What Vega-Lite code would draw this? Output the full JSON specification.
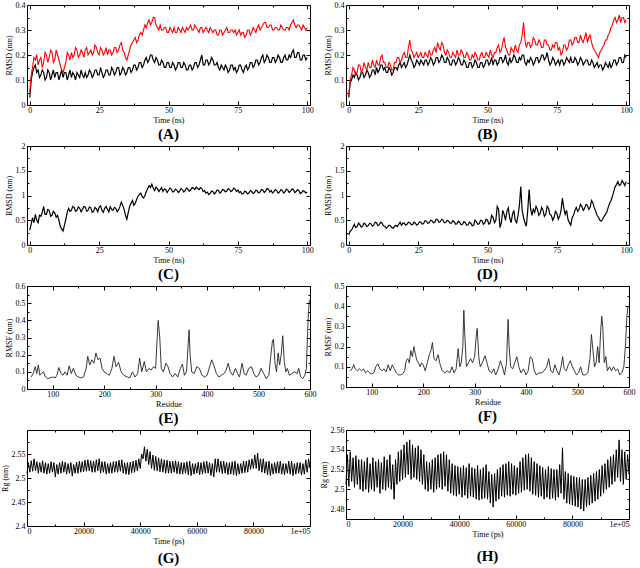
{
"$schema": "https://vega.github.io/schema/vega-lite/v6.json",
"background": "white",
"padding": {"left": 0, "top": 0, "right": 0, "bottom": 0},
"config": {
  "view": {"stroke": "black", "strokeWidth": 1},
  "font": "Liberation Serif",
  "axis": {"domain": false, "grid": false, "tickColor": "black", "tickWidth": 1, "labelFont": "Liberation Serif", "titleFont": "Liberation Serif", "labelFontSize": 8, "titleFontSize": 8, "titleFontWeight": "normal", "labelColor": "black", "titleColor": "black", "labelOverlap": false, "labelFlush": false, "labelBound": false},
  "axisX": {"labelPadding": 5, "titlePadding": 0},
  "axisY": {"labelPadding": 6, "titlePadding": 2},
  "title": {"orient": "bottom", "fontSize": 15, "fontWeight": "bold", "font": "Liberation Serif", "color": "black", "offset": 3, "anchor": "middle"}
},
"datasets": {
"A": [{"t":0,"r":0.05,"b":0.03},{"t":0.5,"r":0.12,"b":0.1},{"t":1,"r":0.15,"b":0.13},{"t":1.5,"r":0.19,"b":0.15},{"t":2,"r":0.18,"b":0.16},{"t":2.5,"r":0.2,"b":0.13},{"t":3,"r":0.16,"b":0.14},{"t":3.5,"r":0.18,"b":0.11},{"t":4,"r":0.19,"b":0.12},{"t":4.5,"r":0.15,"b":0.14},{"t":5,"r":0.17,"b":0.13},{"t":5.5,"r":0.21,"b":0.1},{"t":6,"r":0.2,"b":0.11},{"t":6.5,"r":0.17,"b":0.14},{"t":7,"r":0.19,"b":0.13},{"t":7.5,"r":0.22,"b":0.1},{"t":8,"r":0.21,"b":0.12},{"t":8.5,"r":0.17,"b":0.14},{"t":9,"r":0.18,"b":0.11},{"t":9.5,"r":0.22,"b":0.13},{"t":10,"r":0.2,"b":0.13},{"t":10.5,"r":0.18,"b":0.1},{"t":11,"r":0.16,"b":0.12},{"t":11.5,"r":0.14,"b":0.14},{"t":12,"r":0.13,"b":0.11},{"t":12.5,"r":0.15,"b":0.13},{"t":13,"r":0.17,"b":0.13},{"t":13.5,"r":0.21,"b":0.1},{"t":14,"r":0.2,"b":0.12},{"t":14.5,"r":0.18,"b":0.14},{"t":15,"r":0.21,"b":0.11},{"t":15.5,"r":0.19,"b":0.13},{"t":16,"r":0.2,"b":0.12},{"t":16.5,"r":0.23,"b":0.1},{"t":17,"r":0.22,"b":0.13},{"t":17.5,"r":0.19,"b":0.12},{"t":18,"r":0.2,"b":0.11},{"t":18.5,"r":0.22,"b":0.14},{"t":19,"r":0.21,"b":0.12},{"t":19.5,"r":0.19,"b":0.11},{"t":20,"r":0.22,"b":0.13},{"t":20.5,"r":0.23,"b":0.11},{"t":21,"r":0.2,"b":0.12},{"t":21.5,"r":0.21,"b":0.14},{"t":22,"r":0.22,"b":0.13},{"t":22.5,"r":0.2,"b":0.11},{"t":23,"r":0.21,"b":0.12},{"t":23.5,"r":0.24,"b":0.14},{"t":24,"r":0.23,"b":0.14},{"t":24.5,"r":0.21,"b":0.12},{"t":25,"r":0.2,"b":0.12},{"t":25.5,"r":0.23,"b":0.15},{"t":26,"r":0.22,"b":0.13},{"t":26.5,"r":0.2,"b":0.11},{"t":27,"r":0.21,"b":0.12},{"t":27.5,"r":0.23,"b":0.14},{"t":28,"r":0.2,"b":0.14},{"t":28.5,"r":0.22,"b":0.12},{"t":29,"r":0.22,"b":0.12},{"t":29.5,"r":0.2,"b":0.15},{"t":30,"r":0.21,"b":0.14},{"t":30.5,"r":0.23,"b":0.12},{"t":31,"r":0.23,"b":0.13},{"t":31.5,"r":0.21,"b":0.15},{"t":32,"r":0.22,"b":0.15},{"t":32.5,"r":0.24,"b":0.12},{"t":33,"r":0.25,"b":0.13},{"t":33.5,"r":0.22,"b":0.15},{"t":34,"r":0.21,"b":0.14},{"t":34.5,"r":0.19,"b":0.12},{"t":35,"r":0.18,"b":0.13},{"t":35.5,"r":0.2,"b":0.15},{"t":36,"r":0.22,"b":0.15},{"t":36.5,"r":0.24,"b":0.13},{"t":37,"r":0.25,"b":0.14},{"t":37.5,"r":0.26,"b":0.16},{"t":38,"r":0.27,"b":0.16},{"t":38.5,"r":0.25,"b":0.14},{"t":39,"r":0.26,"b":0.15},{"t":39.5,"r":0.28,"b":0.17},{"t":40,"r":0.29,"b":0.17},{"t":40.5,"r":0.28,"b":0.15},{"t":41,"r":0.3,"b":0.16},{"t":41.5,"r":0.32,"b":0.18},{"t":42,"r":0.31,"b":0.19},{"t":42.5,"r":0.33,"b":0.17},{"t":43,"r":0.34,"b":0.18},{"t":43.5,"r":0.32,"b":0.2},{"t":44,"r":0.33,"b":0.2},{"t":44.5,"r":0.35,"b":0.18},{"t":45,"r":0.35,"b":0.17},{"t":45.5,"r":0.32,"b":0.19},{"t":46,"r":0.31,"b":0.18},{"t":46.5,"r":0.3,"b":0.16},{"t":47,"r":0.32,"b":0.16},{"t":47.5,"r":0.3,"b":0.18},{"t":48,"r":0.3,"b":0.17},{"t":48.5,"r":0.31,"b":0.15},{"t":49,"r":0.31,"b":0.15},{"t":49.5,"r":0.29,"b":0.17},{"t":50,"r":0.29,"b":0.17},{"t":50.5,"r":0.31,"b":0.15},{"t":51,"r":0.3,"b":0.15},{"t":51.5,"r":0.29,"b":0.17},{"t":52,"r":0.31,"b":0.16},{"t":52.5,"r":0.29,"b":0.14},{"t":53,"r":0.29,"b":0.15},{"t":53.5,"r":0.31,"b":0.17},{"t":54,"r":0.3,"b":0.17},{"t":54.5,"r":0.29,"b":0.15},{"t":55,"r":0.31,"b":0.15},{"t":55.5,"r":0.3,"b":0.17},{"t":56,"r":0.29,"b":0.16},{"t":56.5,"r":0.31,"b":0.14},{"t":57,"r":0.3,"b":0.14},{"t":57.5,"r":0.31,"b":0.16},{"t":58,"r":0.32,"b":0.16},{"t":58.5,"r":0.3,"b":0.14},{"t":59,"r":0.3,"b":0.15},{"t":59.5,"r":0.32,"b":0.17},{"t":60,"r":0.31,"b":0.17},{"t":60.5,"r":0.3,"b":0.15},{"t":61,"r":0.29,"b":0.16},{"t":61.5,"r":0.31,"b":0.18},{"t":62,"r":0.31,"b":0.2},{"t":62.5,"r":0.29,"b":0.16},{"t":63,"r":0.3,"b":0.16},{"t":63.5,"r":0.31,"b":0.18},{"t":64,"r":0.3,"b":0.18},{"t":64.5,"r":0.29,"b":0.16},{"t":65,"r":0.31,"b":0.17},{"t":65.5,"r":0.3,"b":0.19},{"t":66,"r":0.29,"b":0.18},{"t":66.5,"r":0.3,"b":0.16},{"t":67,"r":0.3,"b":0.16},{"t":67.5,"r":0.28,"b":0.17},{"t":68,"r":0.28,"b":0.15},{"t":68.5,"r":0.3,"b":0.14},{"t":69,"r":0.3,"b":0.16},{"t":69.5,"r":0.28,"b":0.15},{"t":70,"r":0.29,"b":0.14},{"t":70.5,"r":0.3,"b":0.16},{"t":71,"r":0.31,"b":0.15},{"t":71.5,"r":0.29,"b":0.13},{"t":72,"r":0.29,"b":0.14},{"t":72.5,"r":0.3,"b":0.16},{"t":73,"r":0.3,"b":0.16},{"t":73.5,"r":0.29,"b":0.14},{"t":74,"r":0.3,"b":0.15},{"t":74.5,"r":0.28,"b":0.13},{"t":75,"r":0.29,"b":0.14},{"t":75.5,"r":0.3,"b":0.16},{"t":76,"r":0.28,"b":0.16},{"t":76.5,"r":0.29,"b":0.14},{"t":77,"r":0.29,"b":0.13},{"t":77.5,"r":0.27,"b":0.15},{"t":78,"r":0.28,"b":0.16},{"t":78.5,"r":0.3,"b":0.14},{"t":79,"r":0.3,"b":0.15},{"t":79.5,"r":0.28,"b":0.17},{"t":80,"r":0.29,"b":0.17},{"t":80.5,"r":0.31,"b":0.15},{"t":81,"r":0.3,"b":0.16},{"t":81.5,"r":0.29,"b":0.18},{"t":82,"r":0.31,"b":0.18},{"t":82.5,"r":0.32,"b":0.16},{"t":83,"r":0.3,"b":0.17},{"t":83.5,"r":0.31,"b":0.19},{"t":84,"r":0.32,"b":0.2},{"t":84.5,"r":0.33,"b":0.17},{"t":85,"r":0.33,"b":0.18},{"t":85.5,"r":0.31,"b":0.2},{"t":86,"r":0.31,"b":0.19},{"t":86.5,"r":0.32,"b":0.17},{"t":87,"r":0.32,"b":0.17},{"t":87.5,"r":0.3,"b":0.19},{"t":88,"r":0.3,"b":0.19},{"t":88.5,"r":0.31,"b":0.17},{"t":89,"r":0.31,"b":0.18},{"t":89.5,"r":0.3,"b":0.2},{"t":90,"r":0.3,"b":0.19},{"t":90.5,"r":0.32,"b":0.17},{"t":91,"r":0.31,"b":0.17},{"t":91.5,"r":0.3,"b":0.19},{"t":92,"r":0.3,"b":0.2},{"t":92.5,"r":0.31,"b":0.18},{"t":93,"r":0.31,"b":0.18},{"t":93.5,"r":0.3,"b":0.2},{"t":94,"r":0.32,"b":0.19},{"t":94.5,"r":0.33,"b":0.21},{"t":95,"r":0.34,"b":0.22},{"t":95.5,"r":0.32,"b":0.19},{"t":96,"r":0.31,"b":0.19},{"t":96.5,"r":0.32,"b":0.21},{"t":97,"r":0.32,"b":0.21},{"t":97.5,"r":0.31,"b":0.18},{"t":98,"r":0.3,"b":0.18},{"t":98.5,"r":0.32,"b":0.2},{"t":99,"r":0.31,"b":0.2},{"t":99.5,"r":0.3,"b":0.18},{"t":100,"r":0.31,"b":0.19}],
"B": [{"t":0,"r":0.04,"b":0.03},{"t":0.5,"r":0.1,"b":0.09},{"t":1,"r":0.12,"b":0.1},{"t":1.5,"r":0.15,"b":0.12},{"t":2,"r":0.14,"b":0.11},{"t":2.5,"r":0.12,"b":0.13},{"t":3,"r":0.13,"b":0.12},{"t":3.5,"r":0.16,"b":0.1},{"t":4,"r":0.16,"b":0.11},{"t":4.5,"r":0.13,"b":0.13},{"t":5,"r":0.14,"b":0.13},{"t":5.5,"r":0.17,"b":0.11},{"t":6,"r":0.15,"b":0.12},{"t":6.5,"r":0.14,"b":0.14},{"t":7,"r":0.17,"b":0.13},{"t":7.5,"r":0.15,"b":0.11},{"t":8,"r":0.15,"b":0.12},{"t":8.5,"r":0.18,"b":0.14},{"t":9,"r":0.16,"b":0.14},{"t":9.5,"r":0.15,"b":0.12},{"t":10,"r":0.18,"b":0.15},{"t":10.5,"r":0.16,"b":0.13},{"t":11,"r":0.16,"b":0.14},{"t":11.5,"r":0.19,"b":0.16},{"t":12,"r":0.2,"b":0.16},{"t":12.5,"r":0.17,"b":0.14},{"t":13,"r":0.17,"b":0.15},{"t":13.5,"r":0.15,"b":0.13},{"t":14,"r":0.15,"b":0.13},{"t":14.5,"r":0.17,"b":0.15},{"t":15,"r":0.16,"b":0.14},{"t":15.5,"r":0.14,"b":0.12},{"t":16,"r":0.14,"b":0.13},{"t":16.5,"r":0.17,"b":0.15},{"t":17,"r":0.17,"b":0.15},{"t":17.5,"r":0.19,"b":0.14},{"t":18,"r":0.19,"b":0.16},{"t":18.5,"r":0.17,"b":0.17},{"t":19,"r":0.18,"b":0.15},{"t":19.5,"r":0.2,"b":0.16},{"t":20,"r":0.21,"b":0.17},{"t":20.5,"r":0.19,"b":0.15},{"t":21,"r":0.19,"b":0.16},{"t":21.5,"r":0.23,"b":0.18},{"t":22,"r":0.26,"b":0.2},{"t":22.5,"r":0.22,"b":0.18},{"t":23,"r":0.21,"b":0.17},{"t":23.5,"r":0.19,"b":0.15},{"t":24,"r":0.2,"b":0.16},{"t":24.5,"r":0.21,"b":0.18},{"t":25,"r":0.19,"b":0.17},{"t":25.5,"r":0.2,"b":0.16},{"t":26,"r":0.21,"b":0.18},{"t":26.5,"r":0.19,"b":0.17},{"t":27,"r":0.19,"b":0.16},{"t":27.5,"r":0.21,"b":0.18},{"t":28,"r":0.2,"b":0.18},{"t":28.5,"r":0.19,"b":0.16},{"t":29,"r":0.22,"b":0.17},{"t":29.5,"r":0.2,"b":0.19},{"t":30,"r":0.2,"b":0.18},{"t":30.5,"r":0.22,"b":0.16},{"t":31,"r":0.23,"b":0.17},{"t":31.5,"r":0.21,"b":0.19},{"t":32,"r":0.25,"b":0.19},{"t":32.5,"r":0.23,"b":0.17},{"t":33,"r":0.22,"b":0.18},{"t":33.5,"r":0.25,"b":0.2},{"t":34,"r":0.24,"b":0.19},{"t":34.5,"r":0.21,"b":0.17},{"t":35,"r":0.2,"b":0.17},{"t":35.5,"r":0.22,"b":0.19},{"t":36,"r":0.21,"b":0.18},{"t":36.5,"r":0.19,"b":0.16},{"t":37,"r":0.19,"b":0.16},{"t":37.5,"r":0.21,"b":0.18},{"t":38,"r":0.2,"b":0.18},{"t":38.5,"r":0.19,"b":0.16},{"t":39,"r":0.22,"b":0.17},{"t":39.5,"r":0.2,"b":0.19},{"t":40,"r":0.2,"b":0.18},{"t":40.5,"r":0.22,"b":0.16},{"t":41,"r":0.21,"b":0.16},{"t":41.5,"r":0.19,"b":0.18},{"t":42,"r":0.19,"b":0.17},{"t":42.5,"r":0.21,"b":0.15},{"t":43,"r":0.2,"b":0.15},{"t":43.5,"r":0.18,"b":0.17},{"t":44,"r":0.18,"b":0.17},{"t":44.5,"r":0.2,"b":0.15},{"t":45,"r":0.19,"b":0.16},{"t":45.5,"r":0.21,"b":0.18},{"t":46,"r":0.2,"b":0.17},{"t":46.5,"r":0.18,"b":0.15},{"t":47,"r":0.18,"b":0.15},{"t":47.5,"r":0.2,"b":0.17},{"t":48,"r":0.21,"b":0.17},{"t":48.5,"r":0.19,"b":0.15},{"t":49,"r":0.19,"b":0.16},{"t":49.5,"r":0.21,"b":0.18},{"t":50,"r":0.2,"b":0.18},{"t":50.5,"r":0.19,"b":0.16},{"t":51,"r":0.22,"b":0.17},{"t":51.5,"r":0.2,"b":0.19},{"t":52,"r":0.19,"b":0.16},{"t":52.5,"r":0.21,"b":0.18},{"t":53,"r":0.21,"b":0.18},{"t":53.5,"r":0.23,"b":0.16},{"t":54,"r":0.24,"b":0.17},{"t":54.5,"r":0.21,"b":0.19},{"t":55,"r":0.22,"b":0.19},{"t":55.5,"r":0.25,"b":0.17},{"t":56,"r":0.27,"b":0.18},{"t":56.5,"r":0.23,"b":0.2},{"t":57,"r":0.22,"b":0.17},{"t":57.5,"r":0.2,"b":0.16},{"t":58,"r":0.2,"b":0.19},{"t":58.5,"r":0.23,"b":0.17},{"t":59,"r":0.22,"b":0.18},{"t":59.5,"r":0.21,"b":0.2},{"t":60,"r":0.24,"b":0.19},{"t":60.5,"r":0.22,"b":0.17},{"t":61,"r":0.21,"b":0.17},{"t":61.5,"r":0.24,"b":0.19},{"t":62,"r":0.25,"b":0.18},{"t":62.5,"r":0.28,"b":0.2},{"t":63,"r":0.33,"b":0.2},{"t":63.5,"r":0.26,"b":0.17},{"t":64,"r":0.23,"b":0.16},{"t":64.5,"r":0.25,"b":0.18},{"t":65,"r":0.25,"b":0.17},{"t":65.5,"r":0.23,"b":0.19},{"t":66,"r":0.24,"b":0.18},{"t":66.5,"r":0.27,"b":0.16},{"t":67,"r":0.26,"b":0.17},{"t":67.5,"r":0.24,"b":0.19},{"t":68,"r":0.24,"b":0.19},{"t":68.5,"r":0.26,"b":0.17},{"t":69,"r":0.25,"b":0.18},{"t":69.5,"r":0.23,"b":0.2},{"t":70,"r":0.23,"b":0.2},{"t":70.5,"r":0.26,"b":0.18},{"t":71,"r":0.26,"b":0.19},{"t":71.5,"r":0.24,"b":0.21},{"t":72,"r":0.24,"b":0.18},{"t":72.5,"r":0.22,"b":0.16},{"t":73,"r":0.22,"b":0.17},{"t":73.5,"r":0.24,"b":0.19},{"t":74,"r":0.23,"b":0.18},{"t":74.5,"r":0.25,"b":0.16},{"t":75,"r":0.25,"b":0.17},{"t":75.5,"r":0.22,"b":0.18},{"t":76,"r":0.23,"b":0.16},{"t":76.5,"r":0.2,"b":0.18},{"t":77,"r":0.21,"b":0.18},{"t":77.5,"r":0.24,"b":0.16},{"t":78,"r":0.24,"b":0.17},{"t":78.5,"r":0.22,"b":0.19},{"t":79,"r":0.23,"b":0.18},{"t":79.5,"r":0.26,"b":0.17},{"t":80,"r":0.26,"b":0.19},{"t":80.5,"r":0.24,"b":0.17},{"t":81,"r":0.25,"b":0.17},{"t":81.5,"r":0.27,"b":0.19},{"t":82,"r":0.27,"b":0.18},{"t":82.5,"r":0.25,"b":0.16},{"t":83,"r":0.25,"b":0.17},{"t":83.5,"r":0.28,"b":0.19},{"t":84,"r":0.26,"b":0.18},{"t":84.5,"r":0.25,"b":0.16},{"t":85,"r":0.27,"b":0.17},{"t":85.5,"r":0.29,"b":0.18},{"t":86,"r":0.25,"b":0.18},{"t":86.5,"r":0.27,"b":0.16},{"t":87,"r":0.28,"b":0.16},{"t":87.5,"r":0.25,"b":0.18},{"t":88,"r":0.23,"b":0.17},{"t":88.5,"r":0.22,"b":0.15},{"t":89,"r":0.21,"b":0.16},{"t":89.5,"r":0.2,"b":0.17},{"t":90,"r":0.19,"b":0.15},{"t":90.5,"r":0.21,"b":0.16},{"t":91,"r":0.22,"b":0.16},{"t":91.5,"r":0.23,"b":0.14},{"t":92,"r":0.24,"b":0.15},{"t":92.5,"r":0.26,"b":0.17},{"t":93,"r":0.26,"b":0.16},{"t":93.5,"r":0.28,"b":0.15},{"t":94,"r":0.29,"b":0.17},{"t":94.5,"r":0.31,"b":0.15},{"t":95,"r":0.32,"b":0.16},{"t":95.5,"r":0.34,"b":0.18},{"t":96,"r":0.35,"b":0.18},{"t":96.5,"r":0.33,"b":0.16},{"t":97,"r":0.34,"b":0.17},{"t":97.5,"r":0.36,"b":0.19},{"t":98,"r":0.33,"b":0.19},{"t":98.5,"r":0.35,"b":0.17},{"t":99,"r":0.35,"b":0.17},{"t":99.5,"r":0.33,"b":0.2},{"t":100,"r":0.34,"b":0.19}],
"C": [{"t":0,"v":0.3},{"t":0.5,"v":0.42},{"t":1,"v":0.55},{"t":1.5,"v":0.45},{"t":2,"v":0.62},{"t":2.5,"v":0.5},{"t":3,"v":0.45},{"t":3.5,"v":0.6},{"t":4,"v":0.58},{"t":4.5,"v":0.66},{"t":5,"v":0.78},{"t":5.5,"v":0.62},{"t":6,"v":0.62},{"t":6.5,"v":0.72},{"t":7,"v":0.7},{"t":7.5,"v":0.58},{"t":8,"v":0.6},{"t":8.5,"v":0.68},{"t":9,"v":0.65},{"t":9.5,"v":0.56},{"t":10,"v":0.6},{"t":10.5,"v":0.5},{"t":11,"v":0.38},{"t":11.5,"v":0.32},{"t":12,"v":0.28},{"t":12.5,"v":0.4},{"t":13,"v":0.52},{"t":13.5,"v":0.66},{"t":14,"v":0.74},{"t":14.5,"v":0.68},{"t":15,"v":0.7},{"t":15.5,"v":0.78},{"t":16,"v":0.76},{"t":16.5,"v":0.68},{"t":17,"v":0.7},{"t":17.5,"v":0.77},{"t":18,"v":0.74},{"t":18.5,"v":0.67},{"t":19,"v":0.72},{"t":19.5,"v":0.78},{"t":20,"v":0.77},{"t":20.5,"v":0.68},{"t":21,"v":0.7},{"t":21.5,"v":0.77},{"t":22,"v":0.75},{"t":22.5,"v":0.66},{"t":23,"v":0.68},{"t":23.5,"v":0.76},{"t":24,"v":0.73},{"t":24.5,"v":0.67},{"t":25,"v":0.76},{"t":25.5,"v":0.79},{"t":26,"v":0.7},{"t":26.5,"v":0.66},{"t":27,"v":0.74},{"t":27.5,"v":0.78},{"t":28,"v":0.72},{"t":28.5,"v":0.67},{"t":29,"v":0.77},{"t":29.5,"v":0.72},{"t":30,"v":0.7},{"t":30.5,"v":0.76},{"t":31,"v":0.74},{"t":31.5,"v":0.67},{"t":32,"v":0.71},{"t":32.5,"v":0.78},{"t":33,"v":0.87},{"t":33.5,"v":0.8},{"t":34,"v":0.72},{"t":34.5,"v":0.6},{"t":35,"v":0.52},{"t":35.5,"v":0.66},{"t":36,"v":0.78},{"t":36.5,"v":0.84},{"t":37,"v":0.9},{"t":37.5,"v":0.8},{"t":38,"v":0.84},{"t":38.5,"v":0.92},{"t":39,"v":0.98},{"t":39.5,"v":1.02},{"t":40,"v":1.05},{"t":40.5,"v":0.98},{"t":41,"v":0.95},{"t":41.5,"v":1.0},{"t":42,"v":1.08},{"t":42.5,"v":1.14},{"t":43,"v":1.2},{"t":43.5,"v":1.16},{"t":44,"v":1.23},{"t":44.5,"v":1.15},{"t":45,"v":1.1},{"t":45.5,"v":1.17},{"t":46,"v":1.14},{"t":46.5,"v":1.08},{"t":47,"v":1.12},{"t":47.5,"v":1.16},{"t":48,"v":1.08},{"t":48.5,"v":1.13},{"t":49,"v":1.12},{"t":49.5,"v":1.06},{"t":50,"v":1.1},{"t":50.5,"v":1.15},{"t":51,"v":1.13},{"t":51.5,"v":1.07},{"t":52,"v":1.08},{"t":52.5,"v":1.13},{"t":53,"v":1.11},{"t":53.5,"v":1.06},{"t":54,"v":1.09},{"t":54.5,"v":1.14},{"t":55,"v":1.12},{"t":55.5,"v":1.07},{"t":56,"v":1.1},{"t":56.5,"v":1.15},{"t":57,"v":1.13},{"t":57.5,"v":1.09},{"t":58,"v":1.11},{"t":58.5,"v":1.16},{"t":59,"v":1.15},{"t":59.5,"v":1.12},{"t":60,"v":1.17},{"t":60.5,"v":1.14},{"t":61,"v":1.12},{"t":61.5,"v":1.16},{"t":62,"v":1.14},{"t":62.5,"v":1.08},{"t":63,"v":1.1},{"t":63.5,"v":1.05},{"t":64,"v":1.07},{"t":64.5,"v":1.02},{"t":65,"v":1.04},{"t":65.5,"v":1.09},{"t":66,"v":1.08},{"t":66.5,"v":1.03},{"t":67,"v":1.06},{"t":67.5,"v":1.11},{"t":68,"v":1.1},{"t":68.5,"v":1.05},{"t":69,"v":1.07},{"t":69.5,"v":1.12},{"t":70,"v":1.11},{"t":70.5,"v":1.07},{"t":71,"v":1.09},{"t":71.5,"v":1.14},{"t":72,"v":1.12},{"t":72.5,"v":1.08},{"t":73,"v":1.1},{"t":73.5,"v":1.15},{"t":74,"v":1.13},{"t":74.5,"v":1.08},{"t":75,"v":1.11},{"t":75.5,"v":1.06},{"t":76,"v":1.08},{"t":76.5,"v":1.03},{"t":77,"v":1.04},{"t":77.5,"v":1.09},{"t":78,"v":1.07},{"t":78.5,"v":1.03},{"t":79,"v":1.05},{"t":79.5,"v":1.1},{"t":80,"v":1.08},{"t":80.5,"v":1.04},{"t":81,"v":1.06},{"t":81.5,"v":1.11},{"t":82,"v":1.09},{"t":82.5,"v":1.05},{"t":83,"v":1.07},{"t":83.5,"v":1.12},{"t":84,"v":1.11},{"t":84.5,"v":1.06},{"t":85,"v":1.09},{"t":85.5,"v":1.14},{"t":86,"v":1.13},{"t":86.5,"v":1.07},{"t":87,"v":1.1},{"t":87.5,"v":1.05},{"t":88,"v":1.08},{"t":88.5,"v":1.12},{"t":89,"v":1.1},{"t":89.5,"v":1.05},{"t":90,"v":1.07},{"t":90.5,"v":1.12},{"t":91,"v":1.1},{"t":91.5,"v":1.05},{"t":92,"v":1.08},{"t":92.5,"v":1.13},{"t":93,"v":1.11},{"t":93.5,"v":1.06},{"t":94,"v":1.09},{"t":94.5,"v":1.13},{"t":95,"v":1.12},{"t":95.5,"v":1.06},{"t":96,"v":1.08},{"t":96.5,"v":1.12},{"t":97,"v":1.1},{"t":97.5,"v":1.04},{"t":98,"v":1.06},{"t":98.5,"v":1.1},{"t":99,"v":1.08},{"t":99.5,"v":1.05},{"t":100,"v":1.07}],
"D": [{"t":0,"v":0.2},{"t":0.5,"v":0.28},{"t":1,"v":0.3},{"t":1.5,"v":0.36},{"t":2,"v":0.42},{"t":2.5,"v":0.35},{"t":3,"v":0.37},{"t":3.5,"v":0.44},{"t":4,"v":0.41},{"t":4.5,"v":0.36},{"t":5,"v":0.38},{"t":5.5,"v":0.44},{"t":6,"v":0.42},{"t":6.5,"v":0.37},{"t":7,"v":0.39},{"t":7.5,"v":0.44},{"t":8,"v":0.43},{"t":8.5,"v":0.38},{"t":9,"v":0.4},{"t":9.5,"v":0.46},{"t":10,"v":0.45},{"t":10.5,"v":0.39},{"t":11,"v":0.41},{"t":11.5,"v":0.46},{"t":12,"v":0.44},{"t":12.5,"v":0.39},{"t":13,"v":0.38},{"t":13.5,"v":0.34},{"t":14,"v":0.36},{"t":14.5,"v":0.4},{"t":15,"v":0.39},{"t":15.5,"v":0.35},{"t":16,"v":0.34},{"t":16.5,"v":0.38},{"t":17,"v":0.4},{"t":17.5,"v":0.37},{"t":18,"v":0.42},{"t":18.5,"v":0.46},{"t":19,"v":0.4},{"t":19.5,"v":0.44},{"t":20,"v":0.44},{"t":20.5,"v":0.4},{"t":21,"v":0.42},{"t":21.5,"v":0.46},{"t":22,"v":0.45},{"t":22.5,"v":0.41},{"t":23,"v":0.41},{"t":23.5,"v":0.46},{"t":24,"v":0.44},{"t":24.5,"v":0.4},{"t":25,"v":0.42},{"t":25.5,"v":0.47},{"t":26,"v":0.46},{"t":26.5,"v":0.42},{"t":27,"v":0.44},{"t":27.5,"v":0.49},{"t":28,"v":0.48},{"t":28.5,"v":0.44},{"t":29,"v":0.45},{"t":29.5,"v":0.5},{"t":30,"v":0.49},{"t":30.5,"v":0.45},{"t":31,"v":0.46},{"t":31.5,"v":0.52},{"t":32,"v":0.51},{"t":32.5,"v":0.46},{"t":33,"v":0.47},{"t":33.5,"v":0.52},{"t":34,"v":0.5},{"t":34.5,"v":0.45},{"t":35,"v":0.46},{"t":35.5,"v":0.5},{"t":36,"v":0.48},{"t":36.5,"v":0.44},{"t":37,"v":0.44},{"t":37.5,"v":0.49},{"t":38,"v":0.47},{"t":38.5,"v":0.42},{"t":39,"v":0.43},{"t":39.5,"v":0.48},{"t":40,"v":0.46},{"t":40.5,"v":0.41},{"t":41,"v":0.42},{"t":41.5,"v":0.47},{"t":42,"v":0.45},{"t":42.5,"v":0.4},{"t":43,"v":0.41},{"t":43.5,"v":0.46},{"t":44,"v":0.44},{"t":44.5,"v":0.39},{"t":45,"v":0.4},{"t":45.5,"v":0.5},{"t":46,"v":0.47},{"t":46.5,"v":0.42},{"t":47,"v":0.43},{"t":47.5,"v":0.5},{"t":48,"v":0.49},{"t":48.5,"v":0.42},{"t":49,"v":0.44},{"t":49.5,"v":0.52},{"t":50,"v":0.5},{"t":50.5,"v":0.42},{"t":51,"v":0.45},{"t":51.5,"v":0.6},{"t":52,"v":0.56},{"t":52.5,"v":0.45},{"t":53,"v":0.5},{"t":53.5,"v":0.78},{"t":54,"v":0.72},{"t":54.5,"v":0.35},{"t":55,"v":0.45},{"t":55.5,"v":0.7},{"t":56,"v":0.62},{"t":56.5,"v":0.5},{"t":57,"v":0.68},{"t":57.5,"v":0.75},{"t":58,"v":0.55},{"t":58.5,"v":0.45},{"t":59,"v":0.62},{"t":59.5,"v":0.7},{"t":60,"v":0.5},{"t":60.5,"v":0.45},{"t":61,"v":0.6},{"t":61.5,"v":0.8},{"t":62,"v":1.18},{"t":62.5,"v":0.7},{"t":63,"v":0.55},{"t":63.5,"v":0.45},{"t":64,"v":0.38},{"t":64.5,"v":0.7},{"t":65,"v":1.12},{"t":65.5,"v":0.75},{"t":66,"v":0.6},{"t":66.5,"v":0.72},{"t":67,"v":0.66},{"t":67.5,"v":0.78},{"t":68,"v":0.72},{"t":68.5,"v":0.6},{"t":69,"v":0.64},{"t":69.5,"v":0.76},{"t":70,"v":0.7},{"t":70.5,"v":0.58},{"t":71,"v":0.62},{"t":71.5,"v":0.78},{"t":72,"v":0.74},{"t":72.5,"v":0.62},{"t":73,"v":0.6},{"t":73.5,"v":0.5},{"t":74,"v":0.56},{"t":74.5,"v":0.68},{"t":75,"v":0.64},{"t":75.5,"v":0.52},{"t":76,"v":0.58},{"t":76.5,"v":0.7},{"t":77,"v":0.95},{"t":77.5,"v":0.75},{"t":78,"v":0.62},{"t":78.5,"v":0.7},{"t":79,"v":0.52},{"t":79.5,"v":0.45},{"t":80,"v":0.4},{"t":80.5,"v":0.55},{"t":81,"v":0.6},{"t":81.5,"v":0.7},{"t":82,"v":0.76},{"t":82.5,"v":0.68},{"t":83,"v":0.72},{"t":83.5,"v":0.82},{"t":84,"v":0.78},{"t":84.5,"v":0.7},{"t":85,"v":0.74},{"t":85.5,"v":0.82},{"t":86,"v":0.8},{"t":86.5,"v":0.72},{"t":87,"v":0.76},{"t":87.5,"v":0.9},{"t":88,"v":0.85},{"t":88.5,"v":0.75},{"t":89,"v":0.68},{"t":89.5,"v":0.6},{"t":90,"v":0.56},{"t":90.5,"v":0.5},{"t":91,"v":0.48},{"t":91.5,"v":0.52},{"t":92,"v":0.58},{"t":92.5,"v":0.62},{"t":93,"v":0.66},{"t":93.5,"v":0.76},{"t":94,"v":0.84},{"t":94.5,"v":0.9},{"t":95,"v":0.98},{"t":95.5,"v":1.08},{"t":96,"v":1.18},{"t":96.5,"v":1.22},{"t":97,"v":1.28},{"t":97.5,"v":1.2},{"t":98,"v":1.22},{"t":98.5,"v":1.3},{"t":99,"v":1.26},{"t":99.5,"v":1.2},{"t":100,"v":1.28}],
"E": [{"t":58,"v":0.07},{"t":62,"v":0.09},{"t":66,"v":0.13},{"t":69,"v":0.09},{"t":72,"v":0.14},{"t":75,"v":0.08},{"t":78,"v":0.09},{"t":82,"v":0.1},{"t":86,"v":0.07},{"t":90,"v":0.06},{"t":95,"v":0.065},{"t":100,"v":0.07},{"t":105,"v":0.065},{"t":108,"v":0.08},{"t":112,"v":0.125},{"t":116,"v":0.09},{"t":120,"v":0.08},{"t":124,"v":0.1},{"t":128,"v":0.08},{"t":132,"v":0.135},{"t":136,"v":0.09},{"t":140,"v":0.12},{"t":145,"v":0.08},{"t":150,"v":0.07},{"t":155,"v":0.065},{"t":160,"v":0.07},{"t":165,"v":0.12},{"t":168,"v":0.19},{"t":172,"v":0.14},{"t":176,"v":0.17},{"t":180,"v":0.15},{"t":184,"v":0.21},{"t":188,"v":0.17},{"t":192,"v":0.18},{"t":196,"v":0.12},{"t":200,"v":0.1},{"t":205,"v":0.09},{"t":210,"v":0.08},{"t":215,"v":0.12},{"t":219,"v":0.19},{"t":223,"v":0.13},{"t":228,"v":0.155},{"t":233,"v":0.1},{"t":238,"v":0.08},{"t":245,"v":0.07},{"t":250,"v":0.065},{"t":255,"v":0.1},{"t":260,"v":0.07},{"t":265,"v":0.09},{"t":269,"v":0.18},{"t":273,"v":0.1},{"t":278,"v":0.16},{"t":282,"v":0.1},{"t":287,"v":0.12},{"t":291,"v":0.11},{"t":296,"v":0.13},{"t":300,"v":0.12},{"t":303,"v":0.3},{"t":305,"v":0.4},{"t":308,"v":0.3},{"t":311,"v":0.12},{"t":315,"v":0.1},{"t":320,"v":0.15},{"t":324,"v":0.13},{"t":328,"v":0.09},{"t":333,"v":0.07},{"t":338,"v":0.09},{"t":343,"v":0.07},{"t":348,"v":0.12},{"t":352,"v":0.145},{"t":356,"v":0.08},{"t":360,"v":0.1},{"t":363,"v":0.25},{"t":365,"v":0.345},{"t":367,"v":0.2},{"t":370,"v":0.1},{"t":375,"v":0.09},{"t":380,"v":0.13},{"t":385,"v":0.12},{"t":390,"v":0.08},{"t":395,"v":0.07},{"t":400,"v":0.08},{"t":405,"v":0.13},{"t":409,"v":0.17},{"t":413,"v":0.14},{"t":418,"v":0.09},{"t":423,"v":0.07},{"t":428,"v":0.08},{"t":433,"v":0.09},{"t":437,"v":0.11},{"t":441,"v":0.15},{"t":445,"v":0.1},{"t":450,"v":0.08},{"t":455,"v":0.12},{"t":459,"v":0.09},{"t":463,"v":0.07},{"t":468,"v":0.15},{"t":472,"v":0.09},{"t":476,"v":0.08},{"t":481,"v":0.12},{"t":486,"v":0.13},{"t":491,"v":0.09},{"t":495,"v":0.07},{"t":500,"v":0.08},{"t":505,"v":0.12},{"t":510,"v":0.09},{"t":515,"v":0.06},{"t":520,"v":0.08},{"t":524,"v":0.2},{"t":527,"v":0.28},{"t":529,"v":0.29},{"t":532,"v":0.15},{"t":535,"v":0.1},{"t":538,"v":0.21},{"t":541,"v":0.14},{"t":544,"v":0.2},{"t":547,"v":0.31},{"t":550,"v":0.16},{"t":553,"v":0.1},{"t":556,"v":0.12},{"t":560,"v":0.08},{"t":565,"v":0.09},{"t":570,"v":0.1},{"t":575,"v":0.09},{"t":578,"v":0.12},{"t":582,"v":0.07},{"t":586,"v":0.06},{"t":590,"v":0.08},{"t":593,"v":0.12},{"t":595,"v":0.3},{"t":597,"v":0.45},{"t":599,"v":0.52}],
"F": [{"t":58,"v":0.08},{"t":62,"v":0.09},{"t":65,"v":0.11},{"t":68,"v":0.09},{"t":72,"v":0.08},{"t":76,"v":0.09},{"t":80,"v":0.08},{"t":84,"v":0.09},{"t":88,"v":0.07},{"t":92,"v":0.08},{"t":96,"v":0.07},{"t":100,"v":0.065},{"t":104,"v":0.07},{"t":108,"v":0.1},{"t":112,"v":0.115},{"t":116,"v":0.09},{"t":120,"v":0.08},{"t":124,"v":0.09},{"t":128,"v":0.075},{"t":132,"v":0.11},{"t":136,"v":0.08},{"t":140,"v":0.11},{"t":144,"v":0.09},{"t":148,"v":0.07},{"t":152,"v":0.06},{"t":156,"v":0.06},{"t":160,"v":0.065},{"t":164,"v":0.08},{"t":167,"v":0.13},{"t":170,"v":0.14},{"t":173,"v":0.12},{"t":176,"v":0.18},{"t":179,"v":0.15},{"t":182,"v":0.2},{"t":185,"v":0.16},{"t":188,"v":0.13},{"t":191,"v":0.12},{"t":194,"v":0.1},{"t":197,"v":0.12},{"t":200,"v":0.11},{"t":204,"v":0.08},{"t":208,"v":0.12},{"t":212,"v":0.16},{"t":215,"v":0.18},{"t":218,"v":0.22},{"t":221,"v":0.14},{"t":225,"v":0.13},{"t":229,"v":0.16},{"t":233,"v":0.11},{"t":237,"v":0.08},{"t":242,"v":0.07},{"t":247,"v":0.08},{"t":252,"v":0.07},{"t":256,"v":0.1},{"t":260,"v":0.07},{"t":264,"v":0.09},{"t":268,"v":0.19},{"t":271,"v":0.1},{"t":274,"v":0.12},{"t":277,"v":0.2},{"t":279,"v":0.38},{"t":281,"v":0.25},{"t":284,"v":0.1},{"t":288,"v":0.12},{"t":292,"v":0.14},{"t":296,"v":0.12},{"t":300,"v":0.15},{"t":303,"v":0.25},{"t":305,"v":0.29},{"t":308,"v":0.15},{"t":311,"v":0.1},{"t":315,"v":0.12},{"t":320,"v":0.155},{"t":324,"v":0.12},{"t":328,"v":0.08},{"t":333,"v":0.07},{"t":337,"v":0.09},{"t":341,"v":0.06},{"t":346,"v":0.09},{"t":350,"v":0.13},{"t":354,"v":0.1},{"t":358,"v":0.06},{"t":362,"v":0.12},{"t":365,"v":0.335},{"t":367,"v":0.2},{"t":370,"v":0.1},{"t":374,"v":0.09},{"t":378,"v":0.12},{"t":382,"v":0.15},{"t":386,"v":0.1},{"t":390,"v":0.07},{"t":395,"v":0.09},{"t":400,"v":0.06},{"t":404,"v":0.08},{"t":408,"v":0.15},{"t":412,"v":0.14},{"t":416,"v":0.08},{"t":420,"v":0.06},{"t":425,"v":0.07},{"t":430,"v":0.07},{"t":435,"v":0.08},{"t":440,"v":0.1},{"t":444,"v":0.14},{"t":448,"v":0.08},{"t":452,"v":0.07},{"t":456,"v":0.11},{"t":460,"v":0.08},{"t":464,"v":0.06},{"t":468,"v":0.1},{"t":471,"v":0.15},{"t":474,"v":0.09},{"t":478,"v":0.08},{"t":482,"v":0.11},{"t":486,"v":0.13},{"t":490,"v":0.1},{"t":494,"v":0.08},{"t":498,"v":0.06},{"t":502,"v":0.07},{"t":506,"v":0.1},{"t":510,"v":0.06},{"t":515,"v":0.06},{"t":520,"v":0.07},{"t":524,"v":0.14},{"t":527,"v":0.26},{"t":530,"v":0.18},{"t":533,"v":0.1},{"t":536,"v":0.12},{"t":539,"v":0.2},{"t":542,"v":0.12},{"t":545,"v":0.28},{"t":547,"v":0.35},{"t":549,"v":0.3},{"t":552,"v":0.12},{"t":555,"v":0.15},{"t":558,"v":0.08},{"t":562,"v":0.1},{"t":566,"v":0.08},{"t":570,"v":0.1},{"t":574,"v":0.08},{"t":578,"v":0.09},{"t":582,"v":0.06},{"t":586,"v":0.07},{"t":590,"v":0.1},{"t":593,"v":0.2},{"t":596,"v":0.35},{"t":598,"v":0.4}],
"G": [{"t":0,"v":2.51},{"t":500,"v":2.532},{"t":1000,"v":2.512},{"t":1500,"v":2.536},{"t":2000,"v":2.514},{"t":2500,"v":2.54},{"t":3000,"v":2.515},{"t":3500,"v":2.534},{"t":4000,"v":2.51},{"t":4500,"v":2.532},{"t":5000,"v":2.512},{"t":5500,"v":2.536},{"t":6000,"v":2.51},{"t":6500,"v":2.532},{"t":7000,"v":2.508},{"t":7500,"v":2.53},{"t":8000,"v":2.51},{"t":8500,"v":2.534},{"t":9000,"v":2.512},{"t":9500,"v":2.532},{"t":10000,"v":2.502},{"t":10500,"v":2.528},{"t":11000,"v":2.508},{"t":11500,"v":2.532},{"t":12000,"v":2.51},{"t":12500,"v":2.535},{"t":13000,"v":2.512},{"t":13500,"v":2.533},{"t":14000,"v":2.508},{"t":14500,"v":2.53},{"t":15000,"v":2.51},{"t":15500,"v":2.532},{"t":16000,"v":2.504},{"t":16500,"v":2.528},{"t":17000,"v":2.51},{"t":17500,"v":2.533},{"t":18000,"v":2.51},{"t":18500,"v":2.535},{"t":19000,"v":2.512},{"t":19500,"v":2.534},{"t":20000,"v":2.513},{"t":20500,"v":2.537},{"t":21000,"v":2.514},{"t":21500,"v":2.538},{"t":22000,"v":2.515},{"t":22500,"v":2.536},{"t":23000,"v":2.512},{"t":23500,"v":2.535},{"t":24000,"v":2.512},{"t":24500,"v":2.538},{"t":25000,"v":2.515},{"t":25500,"v":2.54},{"t":26000,"v":2.51},{"t":26500,"v":2.534},{"t":27000,"v":2.512},{"t":27500,"v":2.534},{"t":28000,"v":2.508},{"t":28500,"v":2.53},{"t":29000,"v":2.51},{"t":29500,"v":2.532},{"t":30000,"v":2.51},{"t":30500,"v":2.534},{"t":31000,"v":2.512},{"t":31500,"v":2.535},{"t":32000,"v":2.512},{"t":32500,"v":2.537},{"t":33000,"v":2.514},{"t":33500,"v":2.538},{"t":34000,"v":2.51},{"t":34500,"v":2.532},{"t":35000,"v":2.508},{"t":35500,"v":2.532},{"t":36000,"v":2.507},{"t":36500,"v":2.533},{"t":37000,"v":2.511},{"t":37500,"v":2.535},{"t":38000,"v":2.512},{"t":38500,"v":2.537},{"t":39000,"v":2.515},{"t":39500,"v":2.54},{"t":40000,"v":2.52},{"t":40500,"v":2.55},{"t":41000,"v":2.54},{"t":41500,"v":2.565},{"t":42000,"v":2.535},{"t":42500,"v":2.56},{"t":43000,"v":2.528},{"t":43500,"v":2.555},{"t":44000,"v":2.52},{"t":44500,"v":2.548},{"t":45000,"v":2.516},{"t":45500,"v":2.545},{"t":46000,"v":2.515},{"t":46500,"v":2.542},{"t":47000,"v":2.513},{"t":47500,"v":2.54},{"t":48000,"v":2.512},{"t":48500,"v":2.538},{"t":49000,"v":2.51},{"t":49500,"v":2.537},{"t":50000,"v":2.51},{"t":50500,"v":2.535},{"t":51000,"v":2.51},{"t":51500,"v":2.535},{"t":52000,"v":2.512},{"t":52500,"v":2.536},{"t":53000,"v":2.509},{"t":53500,"v":2.534},{"t":54000,"v":2.508},{"t":54500,"v":2.532},{"t":55000,"v":2.508},{"t":55500,"v":2.532},{"t":56000,"v":2.51},{"t":56500,"v":2.534},{"t":57000,"v":2.507},{"t":57500,"v":2.535},{"t":58000,"v":2.505},{"t":58500,"v":2.53},{"t":59000,"v":2.508},{"t":59500,"v":2.53},{"t":60000,"v":2.51},{"t":60500,"v":2.533},{"t":61000,"v":2.507},{"t":61500,"v":2.532},{"t":62000,"v":2.508},{"t":62500,"v":2.534},{"t":63000,"v":2.51},{"t":63500,"v":2.535},{"t":64000,"v":2.51},{"t":64500,"v":2.532},{"t":65000,"v":2.505},{"t":65500,"v":2.53},{"t":66000,"v":2.502},{"t":66500,"v":2.54},{"t":67000,"v":2.512},{"t":67500,"v":2.54},{"t":68000,"v":2.512},{"t":68500,"v":2.535},{"t":69000,"v":2.509},{"t":69500,"v":2.535},{"t":70000,"v":2.51},{"t":70500,"v":2.533},{"t":71000,"v":2.507},{"t":71500,"v":2.532},{"t":72000,"v":2.508},{"t":72500,"v":2.534},{"t":73000,"v":2.507},{"t":73500,"v":2.535},{"t":74000,"v":2.505},{"t":74500,"v":2.53},{"t":75000,"v":2.508},{"t":75500,"v":2.53},{"t":76000,"v":2.51},{"t":76500,"v":2.535},{"t":77000,"v":2.511},{"t":77500,"v":2.535},{"t":78000,"v":2.512},{"t":78500,"v":2.538},{"t":79000,"v":2.518},{"t":79500,"v":2.54},{"t":80000,"v":2.52},{"t":80500,"v":2.548},{"t":81000,"v":2.52},{"t":81500,"v":2.552},{"t":82000,"v":2.515},{"t":82500,"v":2.54},{"t":83000,"v":2.512},{"t":83500,"v":2.54},{"t":84000,"v":2.51},{"t":84500,"v":2.534},{"t":85000,"v":2.507},{"t":85500,"v":2.535},{"t":86000,"v":2.505},{"t":86500,"v":2.53},{"t":87000,"v":2.508},{"t":87500,"v":2.532},{"t":88000,"v":2.51},{"t":88500,"v":2.534},{"t":89000,"v":2.51},{"t":89500,"v":2.535},{"t":90000,"v":2.508},{"t":90500,"v":2.53},{"t":91000,"v":2.507},{"t":91500,"v":2.53},{"t":92000,"v":2.51},{"t":92500,"v":2.535},{"t":93000,"v":2.508},{"t":93500,"v":2.535},{"t":94000,"v":2.505},{"t":94500,"v":2.53},{"t":95000,"v":2.508},{"t":95500,"v":2.532},{"t":96000,"v":2.51},{"t":96500,"v":2.532},{"t":97000,"v":2.506},{"t":97500,"v":2.53},{"t":98000,"v":2.508},{"t":98500,"v":2.538},{"t":99000,"v":2.512},{"t":99500,"v":2.54},{"t":100000,"v":2.52}],
"H": [{"t":0,"v":2.505},{"t":500,"v":2.535},{"t":1000,"v":2.503},{"t":1500,"v":2.538},{"t":2000,"v":2.508},{"t":2500,"v":2.532},{"t":3000,"v":2.502},{"t":3500,"v":2.534},{"t":4000,"v":2.505},{"t":4500,"v":2.53},{"t":5000,"v":2.5},{"t":5500,"v":2.53},{"t":6000,"v":2.498},{"t":6500,"v":2.528},{"t":7000,"v":2.5},{"t":7500,"v":2.532},{"t":8000,"v":2.497},{"t":8500,"v":2.526},{"t":9000,"v":2.5},{"t":9500,"v":2.532},{"t":10000,"v":2.498},{"t":10500,"v":2.528},{"t":11000,"v":2.502},{"t":11500,"v":2.53},{"t":12000,"v":2.496},{"t":12500,"v":2.527},{"t":13000,"v":2.5},{"t":13500,"v":2.533},{"t":14000,"v":2.499},{"t":14500,"v":2.53},{"t":15000,"v":2.502},{"t":15500,"v":2.535},{"t":16000,"v":2.5},{"t":16500,"v":2.525},{"t":17000,"v":2.49},{"t":17500,"v":2.53},{"t":18000,"v":2.505},{"t":18500,"v":2.538},{"t":19000,"v":2.508},{"t":19500,"v":2.54},{"t":20000,"v":2.51},{"t":20500,"v":2.545},{"t":21000,"v":2.512},{"t":21500,"v":2.548},{"t":22000,"v":2.515},{"t":22500,"v":2.55},{"t":23000,"v":2.51},{"t":23500,"v":2.545},{"t":24000,"v":2.512},{"t":24500,"v":2.542},{"t":25000,"v":2.51},{"t":25500,"v":2.544},{"t":26000,"v":2.508},{"t":26500,"v":2.54},{"t":27000,"v":2.505},{"t":27500,"v":2.535},{"t":28000,"v":2.5},{"t":28500,"v":2.528},{"t":29000,"v":2.498},{"t":29500,"v":2.527},{"t":30000,"v":2.5},{"t":30500,"v":2.53},{"t":31000,"v":2.497},{"t":31500,"v":2.532},{"t":32000,"v":2.5},{"t":32500,"v":2.535},{"t":33000,"v":2.502},{"t":33500,"v":2.536},{"t":34000,"v":2.5},{"t":34500,"v":2.538},{"t":35000,"v":2.503},{"t":35500,"v":2.535},{"t":36000,"v":2.498},{"t":36500,"v":2.53},{"t":37000,"v":2.496},{"t":37500,"v":2.526},{"t":38000,"v":2.494},{"t":38500,"v":2.524},{"t":39000,"v":2.493},{"t":39500,"v":2.523},{"t":40000,"v":2.495},{"t":40500,"v":2.522},{"t":41000,"v":2.492},{"t":41500,"v":2.524},{"t":42000,"v":2.494},{"t":42500,"v":2.522},{"t":43000,"v":2.491},{"t":43500,"v":2.526},{"t":44000,"v":2.493},{"t":44500,"v":2.522},{"t":45000,"v":2.492},{"t":45500,"v":2.521},{"t":46000,"v":2.49},{"t":46500,"v":2.524},{"t":47000,"v":2.489},{"t":47500,"v":2.52},{"t":48000,"v":2.49},{"t":48500,"v":2.522},{"t":49000,"v":2.491},{"t":49500,"v":2.525},{"t":50000,"v":2.49},{"t":50500,"v":2.518},{"t":51000,"v":2.486},{"t":51500,"v":2.515},{"t":52000,"v":2.482},{"t":52500,"v":2.516},{"t":53000,"v":2.488},{"t":53500,"v":2.52},{"t":54000,"v":2.49},{"t":54500,"v":2.522},{"t":55000,"v":2.493},{"t":55500,"v":2.525},{"t":56000,"v":2.492},{"t":56500,"v":2.526},{"t":57000,"v":2.494},{"t":57500,"v":2.528},{"t":58000,"v":2.493},{"t":58500,"v":2.526},{"t":59000,"v":2.495},{"t":59500,"v":2.524},{"t":60000,"v":2.494},{"t":60500,"v":2.522},{"t":61000,"v":2.496},{"t":61500,"v":2.528},{"t":62000,"v":2.497},{"t":62500,"v":2.532},{"t":63000,"v":2.499},{"t":63500,"v":2.535},{"t":64000,"v":2.5},{"t":64500,"v":2.536},{"t":65000,"v":2.498},{"t":65500,"v":2.532},{"t":66000,"v":2.495},{"t":66500,"v":2.528},{"t":67000,"v":2.494},{"t":67500,"v":2.526},{"t":68000,"v":2.492},{"t":68500,"v":2.524},{"t":69000,"v":2.493},{"t":69500,"v":2.522},{"t":70000,"v":2.49},{"t":70500,"v":2.52},{"t":71000,"v":2.492},{"t":71500,"v":2.523},{"t":72000,"v":2.49},{"t":72500,"v":2.521},{"t":73000,"v":2.491},{"t":73500,"v":2.52},{"t":74000,"v":2.489},{"t":74500,"v":2.52},{"t":75000,"v":2.492},{"t":75500,"v":2.525},{"t":76000,"v":2.496},{"t":76500,"v":2.542},{"t":77000,"v":2.49},{"t":77500,"v":2.518},{"t":78000,"v":2.486},{"t":78500,"v":2.516},{"t":79000,"v":2.485},{"t":79500,"v":2.514},{"t":80000,"v":2.484},{"t":80500,"v":2.513},{"t":81000,"v":2.483},{"t":81500,"v":2.512},{"t":82000,"v":2.482},{"t":82500,"v":2.512},{"t":83000,"v":2.48},{"t":83500,"v":2.51},{"t":84000,"v":2.478},{"t":84500,"v":2.51},{"t":85000,"v":2.482},{"t":85500,"v":2.512},{"t":86000,"v":2.484},{"t":86500,"v":2.514},{"t":87000,"v":2.486},{"t":87500,"v":2.516},{"t":88000,"v":2.488},{"t":88500,"v":2.518},{"t":89000,"v":2.49},{"t":89500,"v":2.52},{"t":90000,"v":2.493},{"t":90500,"v":2.524},{"t":91000,"v":2.496},{"t":91500,"v":2.526},{"t":92000,"v":2.5},{"t":92500,"v":2.53},{"t":93000,"v":2.502},{"t":93500,"v":2.533},{"t":94000,"v":2.505},{"t":94500,"v":2.535},{"t":95000,"v":2.508},{"t":95500,"v":2.54},{"t":96000,"v":2.512},{"t":96500,"v":2.55},{"t":97000,"v":2.508},{"t":97500,"v":2.54},{"t":98000,"v":2.505},{"t":98500,"v":2.538},{"t":99000,"v":2.51},{"t":99500,"v":2.535},{"t":100000,"v":2.515}]
},
"columns": 2,
"bounds": "flush",
"spacing": {"row": 41, "column": 36},
"concat": [
{"width": 283, "height": 100, "title": "(A)", "data": {"name": "A"},
 "layer": [
  {"mark": {"type": "line", "opacity": 0}, "encoding": {
    "x": {"field": "t", "type": "quantitative", "scale": {"domain": [-1, 101], "nice": false, "zero": false}, "axis": {"orient": "top", "values": [0,12.5,25,37.5,50,62.5,75,87.5,100], "tickSize": {"condition": {"test": "datum.value % 25 != 0", "value": -2}, "value": -4}, "labels": false, "title": null}},
    "y": {"field": "b", "type": "quantitative", "scale": {"domain": [0, 0.4], "nice": false, "zero": false}, "axis": {"orient": "right", "values": [0,0.05,0.1,0.15,0.2,0.25,0.3,0.35,0.4], "tickSize": {"condition": {"test": "round(datum.value*100) % 10 != 0", "value": -2}, "value": -4}, "labels": false, "title": null}}}},
  {"mark": {"type": "line", "color": "black", "strokeWidth": 1.2}, "encoding": {
    "x": {"field": "t", "type": "quantitative", "axis": {"orient": "bottom", "values": [0,12.5,25,37.5,50,62.5,75,87.5,100], "tickSize": {"condition": {"test": "datum.value % 25 != 0", "value": -2}, "value": -4}, "labelExpr": "datum.value % 25 != 0 ? '' : '' + datum.value", "title": "Time (ns)"}},
    "y": {"field": "b", "type": "quantitative", "axis": {"orient": "left", "values": [0,0.05,0.1,0.15,0.2,0.25,0.3,0.35,0.4], "tickSize": {"condition": {"test": "round(datum.value*100) % 10 != 0", "value": -2}, "value": -4}, "labelExpr": "round(datum.value*100) % 10 != 0 ? '' : '' + datum.value", "title": "RMSD (nm)"}}}},
  {"mark": {"type": "line", "color": "#ff0000", "strokeWidth": 1.1}, "encoding": {
    "x": {"field": "t", "type": "quantitative", "axis": null},
    "y": {"field": "r", "type": "quantitative", "axis": null}}}
 ],
 "resolve": {"axis": {"x": "independent", "y": "independent"}}},
{"width": 283, "height": 100, "title": "(B)", "data": {"name": "B"},
 "layer": [
  {"mark": {"type": "line", "opacity": 0}, "encoding": {
    "x": {"field": "t", "type": "quantitative", "scale": {"domain": [-1, 101], "nice": false, "zero": false}, "axis": {"orient": "top", "values": [0,12.5,25,37.5,50,62.5,75,87.5,100], "tickSize": {"condition": {"test": "datum.value % 25 != 0", "value": -2}, "value": -4}, "labels": false, "title": null}},
    "y": {"field": "b", "type": "quantitative", "scale": {"domain": [0, 0.4], "nice": false, "zero": false}, "axis": {"orient": "right", "values": [0,0.05,0.1,0.15,0.2,0.25,0.3,0.35,0.4], "tickSize": {"condition": {"test": "round(datum.value*100) % 10 != 0", "value": -2}, "value": -4}, "labels": false, "title": null}}}},
  {"mark": {"type": "line", "color": "black", "strokeWidth": 1.2}, "encoding": {
    "x": {"field": "t", "type": "quantitative", "axis": {"orient": "bottom", "values": [0,12.5,25,37.5,50,62.5,75,87.5,100], "tickSize": {"condition": {"test": "datum.value % 25 != 0", "value": -2}, "value": -4}, "labelExpr": "datum.value % 25 != 0 ? '' : '' + datum.value", "title": "Time (ns)"}},
    "y": {"field": "b", "type": "quantitative", "axis": {"orient": "left", "values": [0,0.05,0.1,0.15,0.2,0.25,0.3,0.35,0.4], "tickSize": {"condition": {"test": "round(datum.value*100) % 10 != 0", "value": -2}, "value": -4}, "labelExpr": "round(datum.value*100) % 10 != 0 ? '' : '' + datum.value", "title": "RMSD (nm)"}}}},
  {"mark": {"type": "line", "color": "#ff0000", "strokeWidth": 1.1}, "encoding": {
    "x": {"field": "t", "type": "quantitative", "axis": null},
    "y": {"field": "r", "type": "quantitative", "axis": null}}}
 ],
 "resolve": {"axis": {"x": "independent", "y": "independent"}}},
{"width": 283, "height": 99, "title": "(C)", "data": {"name": "C"},
 "layer": [
  {"mark": {"type": "line", "opacity": 0}, "encoding": {
    "x": {"field": "t", "type": "quantitative", "scale": {"domain": [-1, 101], "nice": false, "zero": false}, "axis": {"orient": "top", "values": [0,12.5,25,37.5,50,62.5,75,87.5,100], "tickSize": {"condition": {"test": "datum.value % 25 != 0", "value": -2}, "value": -4}, "labels": false, "title": null}},
    "y": {"field": "v", "type": "quantitative", "scale": {"domain": [0, 2], "nice": false, "zero": false}, "axis": {"orient": "right", "values": [0,0.25,0.5,0.75,1,1.25,1.5,1.75,2], "tickSize": {"condition": {"test": "round(datum.value*100) % 50 != 0", "value": -2}, "value": -4}, "labels": false, "title": null}}}},
  {"mark": {"type": "line", "color": "black", "strokeWidth": 1.2}, "encoding": {
    "x": {"field": "t", "type": "quantitative", "axis": {"orient": "bottom", "values": [0,12.5,25,37.5,50,62.5,75,87.5,100], "tickSize": {"condition": {"test": "datum.value % 25 != 0", "value": -2}, "value": -4}, "labelExpr": "datum.value % 25 != 0 ? '' : '' + datum.value", "title": "Time (ns)"}},
    "y": {"field": "v", "type": "quantitative", "axis": {"orient": "left", "values": [0,0.25,0.5,0.75,1,1.25,1.5,1.75,2], "tickSize": {"condition": {"test": "round(datum.value*100) % 50 != 0", "value": -2}, "value": -4}, "labelExpr": "round(datum.value*100) % 50 != 0 ? '' : '' + datum.value", "title": "RMSD (nm)"}}}}
 ],
 "resolve": {"axis": {"x": "independent", "y": "independent"}}},
{"width": 283, "height": 99, "title": "(D)", "data": {"name": "D"},
 "layer": [
  {"mark": {"type": "line", "opacity": 0}, "encoding": {
    "x": {"field": "t", "type": "quantitative", "scale": {"domain": [-1, 101], "nice": false, "zero": false}, "axis": {"orient": "top", "values": [0,12.5,25,37.5,50,62.5,75,87.5,100], "tickSize": {"condition": {"test": "datum.value % 25 != 0", "value": -2}, "value": -4}, "labels": false, "title": null}},
    "y": {"field": "v", "type": "quantitative", "scale": {"domain": [0, 2], "nice": false, "zero": false}, "axis": {"orient": "right", "values": [0,0.25,0.5,0.75,1,1.25,1.5,1.75,2], "tickSize": {"condition": {"test": "round(datum.value*100) % 50 != 0", "value": -2}, "value": -4}, "labels": false, "title": null}}}},
  {"mark": {"type": "line", "color": "black", "strokeWidth": 1.2}, "encoding": {
    "x": {"field": "t", "type": "quantitative", "axis": {"orient": "bottom", "values": [0,12.5,25,37.5,50,62.5,75,87.5,100], "tickSize": {"condition": {"test": "datum.value % 25 != 0", "value": -2}, "value": -4}, "labelExpr": "datum.value % 25 != 0 ? '' : '' + datum.value", "title": "Time (ns)"}},
    "y": {"field": "v", "type": "quantitative", "axis": {"orient": "left", "values": [0,0.25,0.5,0.75,1,1.25,1.5,1.75,2], "tickSize": {"condition": {"test": "round(datum.value*100) % 50 != 0", "value": -2}, "value": -4}, "labelExpr": "round(datum.value*100) % 50 != 0 ? '' : '' + datum.value", "title": "RMSD (nm)"}}}}
 ],
 "resolve": {"axis": {"x": "independent", "y": "independent"}}},
{"width": 283, "height": 103, "title": "(E)", "data": {"name": "E"},
 "layer": [
  {"mark": {"type": "line", "opacity": 0}, "encoding": {
    "x": {"field": "t", "type": "quantitative", "scale": {"domain": [50, 600], "nice": false, "zero": false}, "axis": {"orient": "top", "values": [50,100,150,200,250,300,350,400,450,500,550,600], "tickSize": {"condition": {"test": "datum.value % 100 != 0", "value": -2}, "value": -4}, "labels": false, "title": null}},
    "y": {"field": "v", "type": "quantitative", "scale": {"domain": [0, 0.6], "nice": false, "zero": false}, "axis": {"orient": "right", "values": [0,0.05,0.1,0.15,0.2,0.25,0.3,0.35,0.4,0.45,0.5,0.55,0.6], "tickSize": {"condition": {"test": "round(datum.value*100) % 10 != 0", "value": -2}, "value": -4}, "labels": false, "title": null}}}},
  {"mark": {"type": "line", "color": "#222222", "strokeWidth": 0.9}, "encoding": {
    "x": {"field": "t", "type": "quantitative", "axis": {"orient": "bottom", "values": [50,100,150,200,250,300,350,400,450,500,550,600], "tickSize": {"condition": {"test": "datum.value % 100 != 0", "value": -2}, "value": -4}, "labelExpr": "datum.value % 100 != 0 ? '' : '' + datum.value", "title": "Residue"}},
    "y": {"field": "v", "type": "quantitative", "axis": {"orient": "left", "values": [0,0.05,0.1,0.15,0.2,0.25,0.3,0.35,0.4,0.45,0.5,0.55,0.6], "tickSize": {"condition": {"test": "round(datum.value*100) % 10 != 0", "value": -2}, "value": -4}, "labelExpr": "round(datum.value*100) % 10 != 0 ? '' : '' + datum.value", "title": "RMSF (nm)"}}}}
 ],
 "resolve": {"axis": {"x": "independent", "y": "independent"}}},
{"width": 283, "height": 101, "title": "(F)", "data": {"name": "F"},
 "layer": [
  {"mark": {"type": "line", "opacity": 0}, "encoding": {
    "x": {"field": "t", "type": "quantitative", "scale": {"domain": [50, 600], "nice": false, "zero": false}, "axis": {"orient": "top", "values": [50,100,150,200,250,300,350,400,450,500,550,600], "tickSize": {"condition": {"test": "datum.value % 100 != 0", "value": -2}, "value": -4}, "labels": false, "title": null}},
    "y": {"field": "v", "type": "quantitative", "scale": {"domain": [0, 0.5], "nice": false, "zero": false}, "axis": {"orient": "right", "values": [0,0.05,0.1,0.15,0.2,0.25,0.3,0.35,0.4,0.45,0.5], "tickSize": {"condition": {"test": "round(datum.value*100) % 10 != 0", "value": -2}, "value": -4}, "labels": false, "title": null}}}},
  {"mark": {"type": "line", "color": "#222222", "strokeWidth": 0.9}, "encoding": {
    "x": {"field": "t", "type": "quantitative", "axis": {"orient": "bottom", "values": [50,100,150,200,250,300,350,400,450,500,550,600], "tickSize": {"condition": {"test": "datum.value % 100 != 0", "value": -2}, "value": -4}, "labelExpr": "datum.value % 100 != 0 ? '' : '' + datum.value", "title": "Residue"}},
    "y": {"field": "v", "type": "quantitative", "axis": {"orient": "left", "values": [0,0.05,0.1,0.15,0.2,0.25,0.3,0.35,0.4,0.45,0.5], "tickSize": {"condition": {"test": "round(datum.value*100) % 10 != 0", "value": -2}, "value": -4}, "labelExpr": "round(datum.value*100) % 10 != 0 ? '' : '' + datum.value", "title": "RMSF (nm)"}}}}
 ],
 "resolve": {"axis": {"x": "independent", "y": "independent"}}},
{"width": 283, "height": 96, "title": {"text": "(G)", "offset": 6}, "data": {"name": "G"},
 "layer": [
  {"mark": {"type": "line", "opacity": 0}, "encoding": {
    "x": {"field": "t", "type": "quantitative", "scale": {"domain": [0, 100000], "nice": false, "zero": false}, "axis": {"orient": "top", "values": [0,10000,20000,30000,40000,50000,60000,70000,80000,90000,100000], "tickSize": {"condition": {"test": "datum.value % 20000 != 0", "value": -2}, "value": -4}, "labels": false, "title": null}},
    "y": {"field": "v", "type": "quantitative", "scale": {"domain": [2.4, 2.6], "nice": false, "zero": false}, "axis": {"orient": "right", "values": [2.4,2.425,2.45,2.475,2.5,2.525,2.55,2.575,2.6], "tickSize": {"condition": {"test": "round(datum.value*1000) % 50 != 0", "value": -2}, "value": -4}, "labels": false, "title": null}}}},
  {"mark": {"type": "line", "color": "black", "strokeWidth": 1}, "encoding": {
    "x": {"field": "t", "type": "quantitative", "axis": {"orient": "bottom", "values": [0,10000,20000,30000,40000,50000,60000,70000,80000,90000,100000], "tickSize": {"condition": {"test": "datum.value % 20000 != 0", "value": -2}, "value": -4}, "labelExpr": "datum.value % 20000 != 0 ? '' : (datum.value == 100000 ? '1e+05' : '' + datum.value)", "labelFlush": true, "title": "Time (ps)"}},
    "y": {"field": "v", "type": "quantitative", "axis": {"orient": "left", "values": [2.4,2.425,2.45,2.475,2.5,2.525,2.55,2.575,2.6], "tickSize": {"condition": {"test": "round(datum.value*1000) % 50 != 0", "value": -2}, "value": -4}, "labelExpr": "round(datum.value*1000) % 50 != 0 || datum.value > 2.59 ? '' : '' + datum.value", "title": "Rg (nm)"}}}}
 ],
 "resolve": {"axis": {"x": "independent", "y": "independent"}}},
{"width": 283, "height": 89, "title": {"text": "(H)", "offset": 11}, "data": {"name": "H"},
 "layer": [
  {"mark": {"type": "line", "opacity": 0}, "encoding": {
    "x": {"field": "t", "type": "quantitative", "scale": {"domain": [0, 100000], "nice": false, "zero": false}, "axis": {"orient": "top", "values": [0,10000,20000,30000,40000,50000,60000,70000,80000,90000,100000], "tickSize": {"condition": {"test": "datum.value % 20000 != 0", "value": -2}, "value": -4}, "labels": false, "title": null}},
    "y": {"field": "v", "type": "quantitative", "scale": {"domain": [2.47, 2.56], "nice": false, "zero": false}, "axis": {"orient": "right", "values": [2.47,2.48,2.49,2.5,2.51,2.52,2.53,2.54,2.55,2.56], "tickSize": {"condition": {"test": "round(datum.value*100) % 2 != 0", "value": -2}, "value": -4}, "labels": false, "title": null}}}},
  {"mark": {"type": "line", "color": "black", "strokeWidth": 1}, "encoding": {
    "x": {"field": "t", "type": "quantitative", "axis": {"orient": "bottom", "values": [0,10000,20000,30000,40000,50000,60000,70000,80000,90000,100000], "tickSize": {"condition": {"test": "datum.value % 20000 != 0", "value": -2}, "value": -4}, "labelExpr": "datum.value % 20000 != 0 ? '' : (datum.value == 100000 ? '1e+05' : '' + datum.value)", "labelFlush": true, "title": "Time (ps)"}},
    "y": {"field": "v", "type": "quantitative", "axis": {"orient": "left", "values": [2.47,2.48,2.49,2.5,2.51,2.52,2.53,2.54,2.55,2.56], "tickSize": {"condition": {"test": "round(datum.value*100) % 2 != 0", "value": -2}, "value": -4}, "labelExpr": "round(datum.value*100) % 2 != 0 ? '' : '' + datum.value", "title": "Rg (nm)"}}}}
 ],
 "resolve": {"axis": {"x": "independent", "y": "independent"}}}
]
}
